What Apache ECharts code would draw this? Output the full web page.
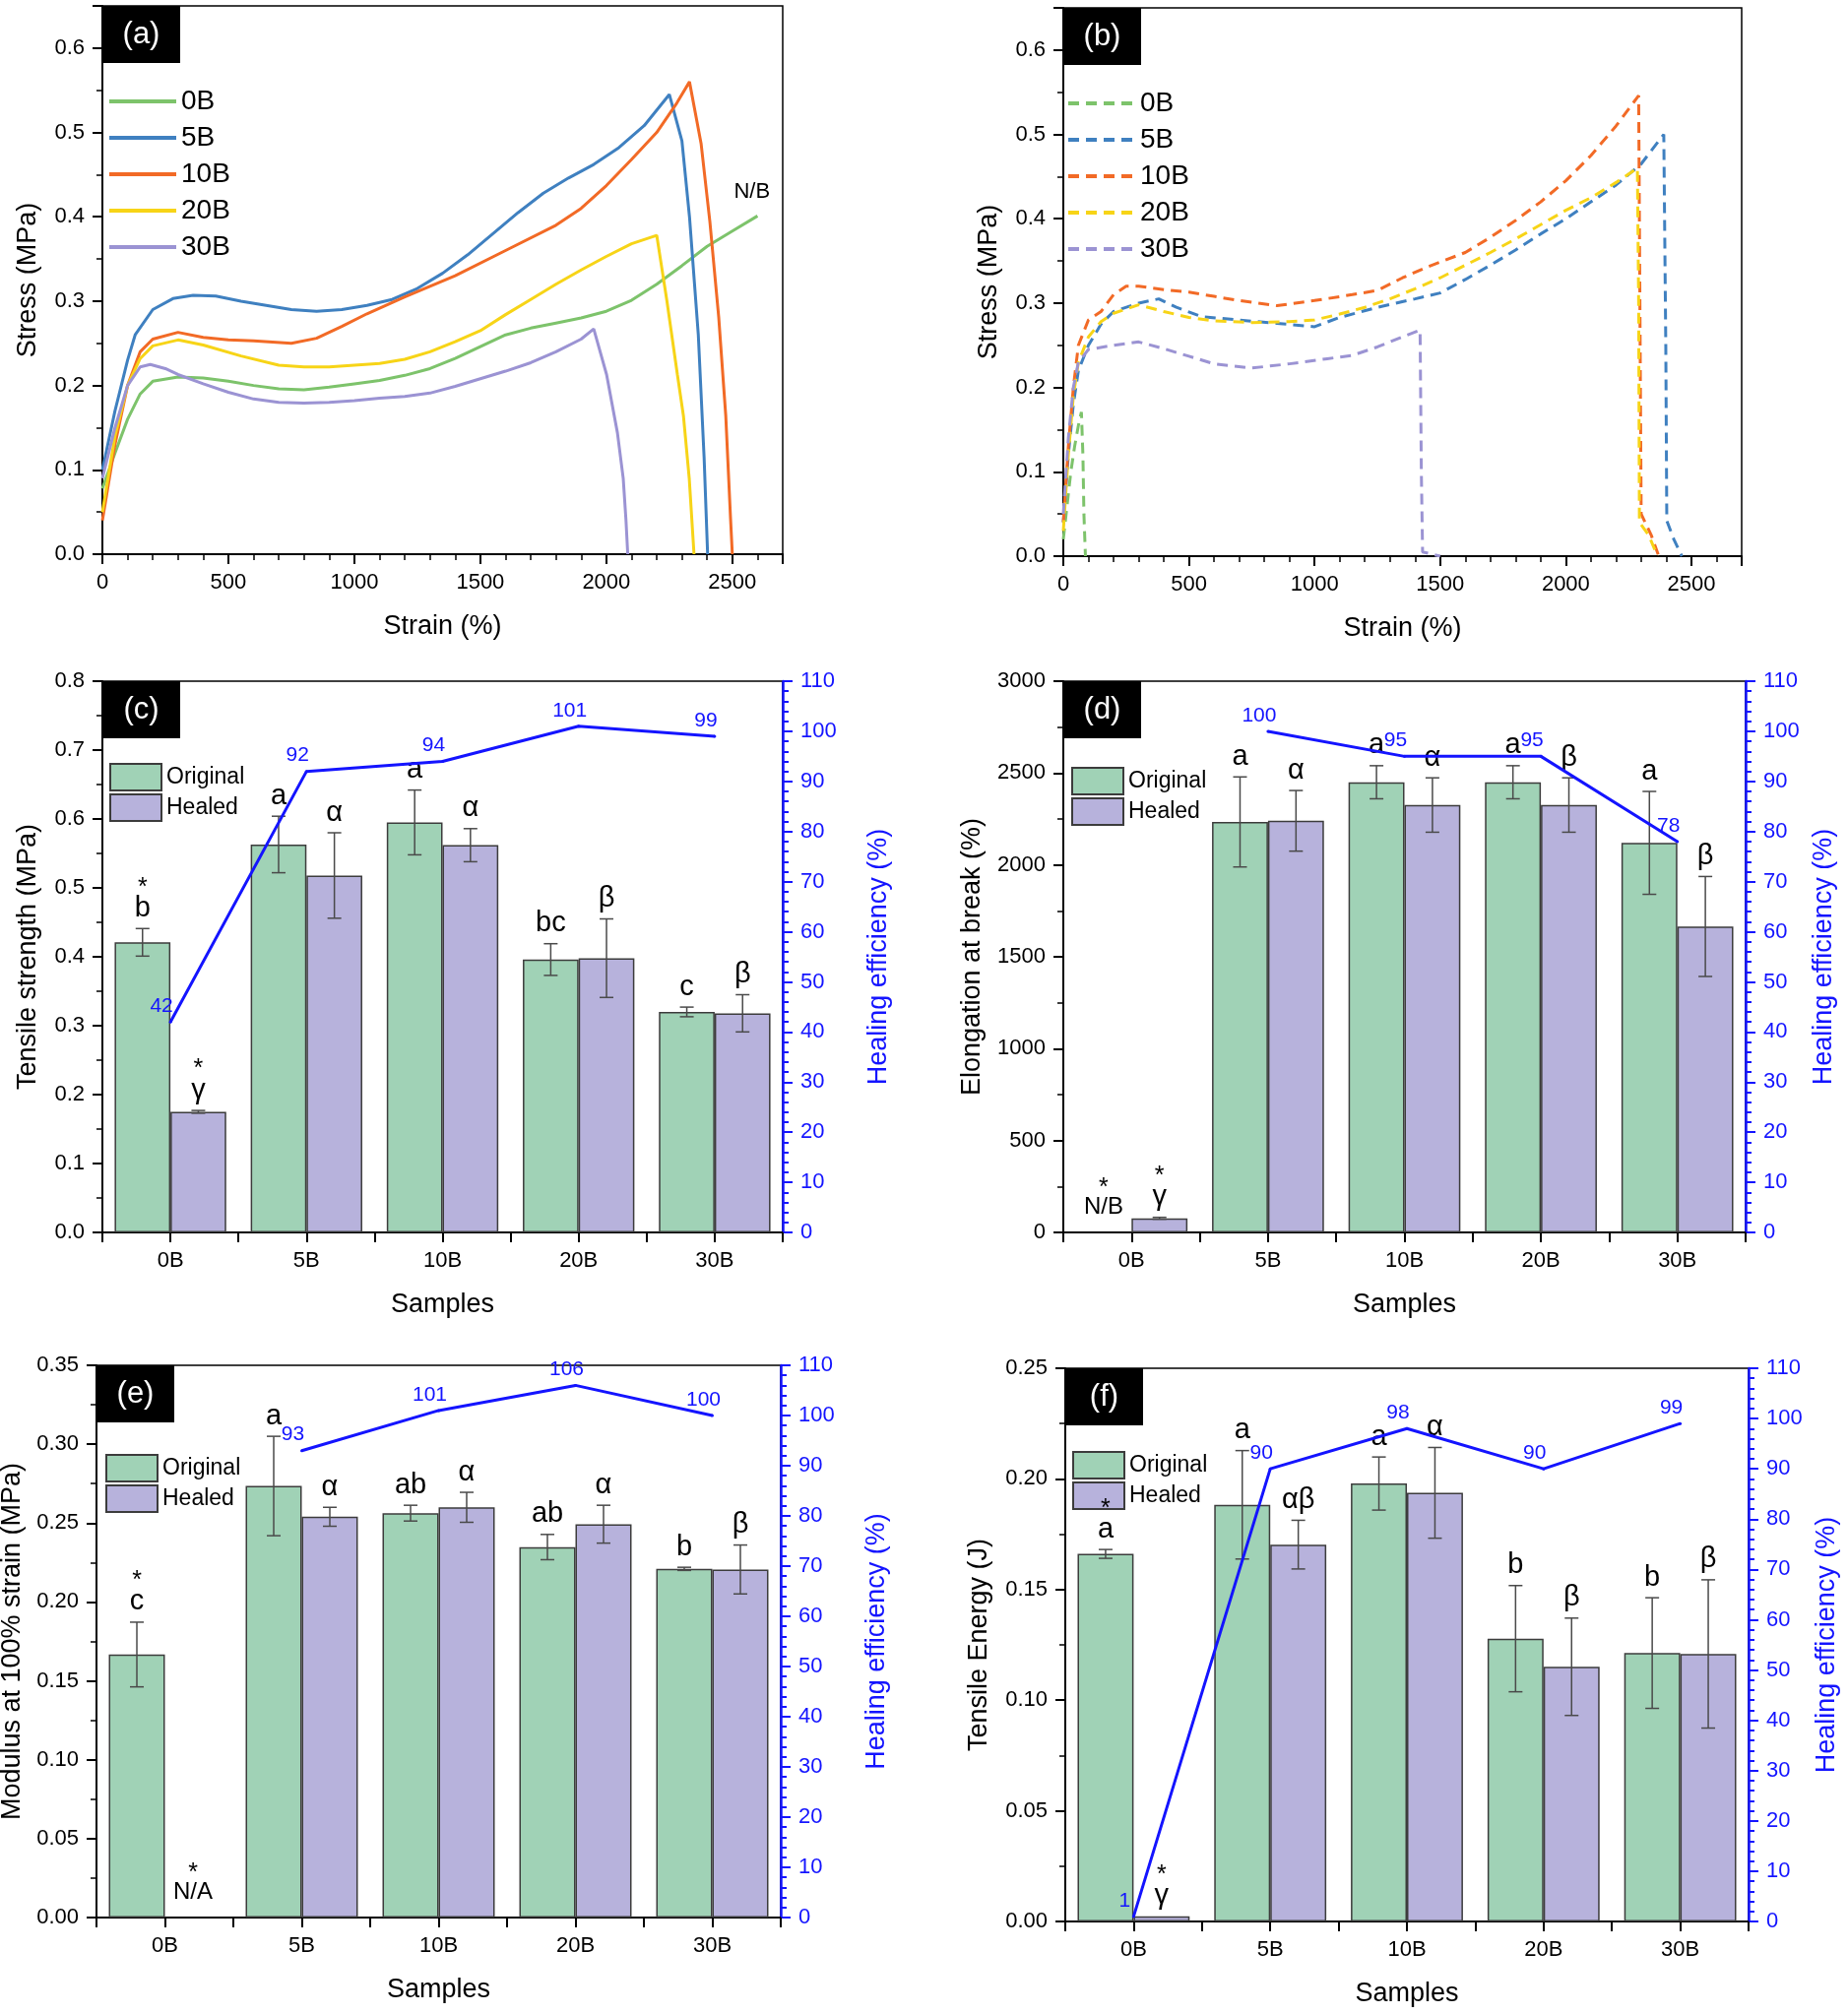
<!DOCTYPE html>
<html>
<head>
<meta charset="utf-8">
<title>Tensile tests</title>
<script src="https://cdn.jsdelivr.net/npm/echarts@6/dist/echarts.min.js"></script>
<style>
body{margin:0;background:#fff;}
#page{position:relative;width:1877px;height:2046px;}
.panel{position:absolute;}
</style>
</head>
<body>
<div id="page">
<div id="pa" class="panel" style="left:0;top:0;width:940px;height:670px"></div>
<div id="pb" class="panel" style="left:940px;top:0;width:937px;height:670px"></div>
<div id="pc" class="panel" style="left:0;top:670px;width:940px;height:690px"></div>
<div id="pd" class="panel" style="left:940px;top:670px;width:937px;height:690px"></div>
<div id="pe" class="panel" style="left:0;top:1360px;width:940px;height:686px"></div>
<div id="pf" class="panel" style="left:940px;top:1360px;width:937px;height:686px"></div>
</div>
<script>
var FONT = '"Liberation Sans", Arial, sans-serif';
var samples = ['0B', '5B', '10B', '20B', '30B'];
var curveColors = ['#7dc36b', '#3f80c0', '#f26a26', '#f7d417', '#9b93d3'];
var GREEN = '#a0d2b6', PURPLE = '#b7b2dc', EFF = '#1414ff';

// (a) original samples, [strain %, stress MPa]
var a0B = [[0,0.078],[50,0.12],[100,0.16],[150,0.19],[200,0.205],[300,0.21],[400,0.209],[500,0.205],[600,0.2],[700,0.196],[800,0.195],[900,0.198],[1000,0.202],[1100,0.206],[1200,0.212],[1300,0.22],[1400,0.232],[1500,0.246],[1600,0.26],[1700,0.268],[1800,0.274],[1900,0.28],[2000,0.288],[2100,0.301],[2200,0.32],[2300,0.342],[2400,0.365],[2500,0.383],[2600,0.401]];
var a5B = [[0,0.1],[50,0.17],[100,0.23],[130,0.26],[200,0.29],[280,0.303],[360,0.307],[450,0.306],[550,0.3],[650,0.295],[750,0.29],[850,0.288],[950,0.29],[1050,0.295],[1150,0.302],[1250,0.315],[1350,0.333],[1450,0.355],[1550,0.38],[1650,0.405],[1750,0.428],[1850,0.446],[1950,0.462],[2050,0.482],[2150,0.508],[2250,0.545],[2300,0.49],[2330,0.4],[2365,0.26],[2388,0.115],[2402,0]];
var a10B = [[0,0.04],[50,0.13],[100,0.2],[150,0.24],[200,0.255],[300,0.263],[400,0.257],[500,0.254],[600,0.253],[750,0.25],[850,0.256],[950,0.27],[1050,0.285],[1200,0.305],[1400,0.33],[1600,0.36],[1800,0.39],[1900,0.41],[2000,0.437],[2100,0.468],[2200,0.5],[2280,0.535],[2330,0.56],[2376,0.487],[2411,0.394],[2446,0.281],[2474,0.164],[2493,0.042],[2500,0]];
var a20B = [[0,0.05],[50,0.14],[100,0.2],[150,0.232],[200,0.247],[300,0.254],[400,0.248],[550,0.235],[700,0.224],[800,0.222],[900,0.222],[1000,0.224],[1100,0.226],[1200,0.231],[1300,0.24],[1400,0.252],[1500,0.265],[1600,0.284],[1700,0.302],[1800,0.32],[1900,0.337],[2000,0.353],[2100,0.368],[2200,0.378],[2240,0.301],[2282,0.213],[2306,0.164],[2329,0.09],[2348,0]];
var a30B = [[0,0.09],[50,0.15],[100,0.2],[150,0.222],[190,0.225],[250,0.22],[300,0.213],[400,0.202],[500,0.192],[600,0.184],[700,0.18],[800,0.179],[900,0.18],[1000,0.182],[1100,0.185],[1200,0.187],[1300,0.191],[1400,0.199],[1500,0.208],[1600,0.217],[1700,0.227],[1800,0.24],[1900,0.255],[1950,0.267],[2001,0.213],[2044,0.144],[2067,0.09],[2078,0.04],[2085,0]];

// (b) healed samples, [strain %, stress MPa]
var b0B = [[0,0.02],[15,0.06],[30,0.1],[45,0.13],[60,0.155],[72,0.171],[78,0.12],[82,0.05],[88,0]];
var b5B = [[0,0.04],[20,0.12],[40,0.18],[60,0.22],[100,0.25],[150,0.275],[200,0.29],[300,0.3],[380,0.305],[450,0.295],[550,0.284],[700,0.28],[850,0.276],[1000,0.272],[1100,0.283],[1250,0.295],[1400,0.305],[1500,0.312],[1600,0.328],[1700,0.345],[1800,0.363],[1900,0.382],[2000,0.4],[2100,0.42],[2200,0.44],[2300,0.465],[2390,0.5],[2398,0.25],[2402,0.042],[2430,0.02],[2462,0]];
var b10B = [[0,0.04],[20,0.13],[40,0.2],[60,0.25],[100,0.28],[150,0.29],[200,0.31],[250,0.32],[300,0.32],[400,0.316],[500,0.313],[600,0.308],[700,0.303],[850,0.297],[1000,0.303],[1150,0.31],[1250,0.315],[1350,0.33],[1450,0.343],[1600,0.36],[1700,0.378],[1800,0.398],[1900,0.42],[2000,0.445],[2100,0.475],[2200,0.51],[2290,0.546],[2295,0.3],[2300,0.05],[2340,0.025],[2370,0]];
var b20B = [[0,0.03],[20,0.12],[40,0.19],[60,0.23],[100,0.26],[150,0.278],[200,0.288],[300,0.298],[400,0.29],[500,0.283],[600,0.279],[750,0.277],[900,0.278],[1000,0.28],[1100,0.287],[1200,0.295],[1300,0.305],[1400,0.317],[1500,0.33],[1600,0.345],[1700,0.36],[1800,0.376],[1900,0.393],[2000,0.41],[2100,0.425],[2200,0.443],[2285,0.46],[2290,0.3],[2293,0.04],[2330,0.025],[2365,0]];
var b30B = [[0,0.05],[20,0.14],[40,0.2],[60,0.23],[100,0.245],[200,0.25],[300,0.254],[400,0.246],[500,0.237],[600,0.228],[750,0.223],[900,0.228],[1050,0.234],[1150,0.238],[1250,0.248],[1350,0.26],[1420,0.268],[1425,0.1],[1430,0.005],[1500,0]];

// (c) tensile strength, MPa
var cOrig = [0.421, 0.563, 0.595, 0.396, 0.320];
var cOrigErr = [0.020, 0.041, 0.047, 0.023, 0.007];
var cHeal = [0.175, 0.518, 0.562, 0.398, 0.318];
var cHealErr = [0.002, 0.062, 0.024, 0.057, 0.027];
var cEff = [42, 92, 94, 101, 99];
var cOrigTag = ['b', 'a', 'a', 'bc', 'c'];
var cHealTag = ['γ', 'α', 'α', 'β', 'β'];

// (d) elongation at break, %
var dOrig = [null, 2234, 2450, 2450, 2120];
var dOrigErr = [0, 245, 90, 90, 280];
var dHeal = [77, 2240, 2326, 2326, 1665];
var dHealErr = [5, 165, 148, 148, 272];
var dEff = [null, 100, 95, 95, 78];
var dOrigTag = ['N/B', 'a', 'a', 'a', 'a'];
var dHealTag = ['γ', 'α', 'α', 'β', 'β'];

// (e) modulus at 100% strain, MPa
var eOrig = [0.1667, 0.2735, 0.2563, 0.2348, 0.2210];
var eOrigErr = [0.0205, 0.0315, 0.005, 0.008, 0.001];
var eHeal = [null, 0.254, 0.260, 0.2493, 0.2206];
var eHealErr = [0, 0.006, 0.0095, 0.012, 0.0155];
var eEff = [null, 93, 101, 106, 100];
var eOrigTag = ['c', 'a', 'ab', 'ab', 'b'];
var eHealTag = ['N/A', 'α', 'α', 'α', 'β'];

// (f) tensile energy, J
var fOrig = [0.1661, 0.1883, 0.1979, 0.1278, 0.1213];
var fOrigErr = [0.002, 0.0245, 0.012, 0.024, 0.025];
var fHeal = [0.0023, 0.1703, 0.1937, 0.1151, 0.1209];
var fHealErr = [0, 0.011, 0.0205, 0.022, 0.0335];
var fEff = [1, 90, 98, 90, 99];
var fOrigTag = ['a', 'a', 'a', 'b', 'b'];
var fHealTag = ['γ', 'αβ', 'α', 'β', 'β'];

// significance stars (only the 0B samples)
var starred = [true, false, false, false, false];

function panelTag(x, y, txt) {
	return {
		type: 'group', left: x, top: y, z: 100,
		children: [
			{type: 'rect', shape: {x: 0, y: 0, width: 79, height: 58}, style: {fill: '#000'}},
			{type: 'text', x: 39.5, y: 29, style: {text: txt, fill: '#fff', font: '31px ' + FONT,
				align: 'center', verticalAlign: 'middle', textAlign: 'center', textVerticalAlign: 'middle'}}
		]
	};
}

function axisBase(extra) {
	var ax = {
		axisLine: {show: true, onZero: false, lineStyle: {color: '#000', width: 2}},
		axisTick: {show: true, inside: false, length: 10, lineStyle: {color: '#000', width: 2}},
		minorTick: {show: true, splitNumber: 2, length: 6, lineStyle: {color: '#000', width: 1.5}},
		axisLabel: {color: '#000', fontSize: 22, fontFamily: FONT, margin: 18},
		splitLine: {show: false},
		nameLocation: 'middle',
		nameTextStyle: {color: '#000', fontSize: 27, fontFamily: FONT}
	};
	for (var k in extra) ax[k] = extra[k];
	return ax;
}

function lineChart(id, grid, curves, dashed, tag, legLeft, legTop, withNB) {
	var chart = echarts.init(document.getElementById(id));
	var series = curves.map(function(c, k) {
		return {
			name: samples[k], type: 'line', data: c, symbol: 'none', smooth: false,
			lineStyle: {color: curveColors[k], width: 3, type: dashed ? [11, 7] : 'solid'},
			itemStyle: {color: curveColors[k]}
		};
	});
	if (withNB) {
		series[0].endLabel = {show: true, formatter: 'N/B', color: '#000', fontSize: 22, fontFamily: FONT, offset: [-32, -24]};
	}
	chart.setOption({
		animation: false,
		textStyle: {fontFamily: FONT},
		grid: {left: grid[0], top: grid[1], width: grid[2], height: grid[3], show: true, borderColor: '#000', borderWidth: 1.5, outerBoundsMode: 'none'},
		legend: {
			orient: 'vertical', left: legLeft, top: legTop, itemWidth: 68, itemHeight: 14, itemGap: 9,
			itemStyle: {opacity: 0}, lineStyle: {width: 4},
			textStyle: {fontSize: 28, color: '#000', fontFamily: FONT}, data: samples
		},
		xAxis: axisBase({
			type: 'value', min: 0, max: 2700, interval: 500, name: 'Strain (%)', nameGap: 60,
			minorTick: {show: true, splitNumber: 5, length: 6, lineStyle: {color: '#000', width: 1.5}},
			axisLabel: {color: '#000', fontSize: 22, fontFamily: FONT, margin: 18, showMaxLabel: false,
				formatter: function(v) { return String(v); }}
		}),
		yAxis: axisBase({
			type: 'value', min: 0, max: 0.65, interval: 0.1, name: 'Stress (MPa)', nameGap: 62,
			axisLabel: {color: '#000', fontSize: 22, fontFamily: FONT, margin: 18, showMaxLabel: false,
				formatter: function(v) { return v.toFixed(1); }}
		}),
		graphic: [panelTag(grid[0], grid[1], tag)],
		series: series
	});
}

function textEl(txt, x, y, size) {
	return {
		type: 'text',
		style: {text: txt, x: x, y: y, font: size + 'px ' + FONT, fill: '#000',
			align: 'center', verticalAlign: 'bottom', textAlign: 'center', textVerticalAlign: 'bottom'}
	};
}

function errorMarks(shift, tags) {
	return function(params, api) {
		var i = api.value(0), v = api.value(1), e = api.value(2), has = api.value(3);
		var base = api.coord([i, 0]);
		var band = api.size([1, 0])[0];
		var x = base[0] + shift * band * 0.205;
		var kids = [];
		var bottom, size;
		var stroke = {stroke: '#4a4a4a', lineWidth: 1.5};
		if (has) {
			var lo = api.coord([i, v - e])[1];
			var hi = api.coord([i, v + e])[1];
			if (e > 0) {
				kids.push({type: 'line', shape: {x1: x, y1: lo, x2: x, y2: hi}, style: stroke});
				kids.push({type: 'line', shape: {x1: x - 7, y1: lo, x2: x + 7, y2: lo}, style: stroke});
				kids.push({type: 'line', shape: {x1: x - 7, y1: hi, x2: x + 7, y2: hi}, style: stroke});
			}
			bottom = hi - 6;
			size = 29;
		} else {
			bottom = base[1] - 14;
			size = 24;
		}
		kids.push(textEl(tags[i], x, bottom, size));
		if (starred[i]) kids.push(textEl('*', x, bottom - size + 6, 25));
		return {type: 'group', children: kids};
	};
}

function barChart(id, o) {
	var chart = echarts.init(document.getElementById(id));
	var g = o.grid;
	function marks(vals, errs) {
		return samples.map(function(s, i) {
			return [i, vals[i] == null ? 0 : vals[i], errs[i], vals[i] == null ? 0 : 1];
		});
	}
	function bars(vals) {
		return vals.map(function(v) { return v == null ? '-' : v; });
	}
	chart.setOption({
		animation: false,
		textStyle: {fontFamily: FONT},
		grid: {left: g[0], top: g[1], width: g[2], height: g[3], show: true, borderColor: '#000', borderWidth: 1.5, outerBoundsMode: 'none'},
		legend: {
			orient: 'vertical', left: o.leg[0], top: o.leg[1], itemWidth: 52, itemHeight: 27, itemGap: 2,
			icon: 'rect', textStyle: {fontSize: 23, color: '#000', fontFamily: FONT},
			data: ['Original', 'Healed']
		},
		xAxis: [
			axisBase({type: 'category', data: samples, name: 'Samples', nameGap: 60, axisTick: {show: false}, minorTick: {show: false}}),
			{
				type: 'value', min: -0.5, max: 4.5, interval: 0.5, position: 'bottom',
				axisLine: {show: false}, axisLabel: {show: false}, splitLine: {show: false},
				axisTick: {show: true, length: 10, lineStyle: {color: '#000', width: 2}}
			}
		],
		yAxis: [
			axisBase({
				type: 'value', min: 0, max: o.max, interval: o.step, name: o.name, nameGap: o.nameGap,
				axisLabel: {color: '#000', fontSize: 22, fontFamily: FONT, margin: 18, formatter: function(v) { return v.toFixed(o.dec); }}
			}),
			{
				type: 'value', min: 0, max: 110, interval: 10, position: 'right',
				name: 'Healing efficiency (%)', nameLocation: 'middle', nameRotate: 90, nameGap: o.rGap,
				nameTextStyle: {color: EFF, fontSize: 27, fontFamily: FONT},
				axisLine: {show: true, onZero: false, lineStyle: {color: EFF, width: 2.5}},
				axisTick: {show: true, length: 10, lineStyle: {color: EFF, width: 2}},
				minorTick: {show: true, splitNumber: 5, length: 6, lineStyle: {color: EFF, width: 2}},
				axisLabel: {color: EFF, fontSize: 22, fontFamily: FONT, margin: 18},
				splitLine: {show: false}
			}
		],
		graphic: [panelTag(g[0], g[1], o.tag)],
		series: [
			{name: 'Original', type: 'bar', data: bars(o.orig), barWidth: '41%', barGap: '0%',
				itemStyle: {color: GREEN, borderColor: '#3c3c3c', borderWidth: 1.5}},
			{name: 'Healed', type: 'bar', data: bars(o.heal), barWidth: '41%', barGap: '0%',
				itemStyle: {color: PURPLE, borderColor: '#3c3c3c', borderWidth: 1.5}},
			{type: 'custom', data: marks(o.orig, o.origErr), renderItem: errorMarks(-1, o.origTag), z: 4},
			{type: 'custom', data: marks(o.heal, o.healErr), renderItem: errorMarks(1, o.healTag), z: 4},
			{name: 'eff', type: 'line', yAxisIndex: 1, data: bars(o.eff), symbol: 'circle', symbolSize: 3, z: 5,
				lineStyle: {color: EFF, width: 3}, itemStyle: {color: EFF},
				label: {show: true, position: 'top', distance: 4, offset: [-9, 0], color: EFF, fontSize: 21, fontFamily: FONT}}
		]
	});
}

lineChart('pa', [104, 6, 691, 557], [a0B, a5B, a10B, a20B, a30B], false, '(a)', 104, 84, true);
lineChart('pb', [140, 8, 689, 557], [b0B, b5B, b10B, b20B, b30B], true, '(b)', 138, 86, false);

barChart('pc', {grid: [104, 22, 691, 560], leg: [106, 100], tag: '(c)', max: 0.8, step: 0.1, dec: 1,
	name: 'Tensile strength (MPa)', nameGap: 62, rGap: 84,
	orig: cOrig, origErr: cOrigErr, heal: cHeal, healErr: cHealErr, eff: cEff, origTag: cOrigTag, healTag: cHealTag});
barChart('pd', {grid: [140, 22, 693, 560], leg: [143, 104], tag: '(d)', max: 3000, step: 500, dec: 0,
	name: 'Elongation at break (%)', nameGap: 79, rGap: 64,
	orig: dOrig, origErr: dOrigErr, heal: dHeal, healErr: dHealErr, eff: dEff, origTag: dOrigTag, healTag: dHealTag});
barChart('pe', {grid: [98, 27, 695, 561], leg: [102, 112], tag: '(e)', max: 0.35, step: 0.05, dec: 2,
	name: 'Modulus at 100% strain (MPa)', nameGap: 69, rGap: 84,
	orig: eOrig, origErr: eOrigErr, heal: eHeal, healErr: eHealErr, eff: eEff, origTag: eOrigTag, healTag: eHealTag});
barChart('pf', {grid: [142, 30, 694, 562], leg: [144, 109], tag: '(f)', max: 0.25, step: 0.05, dec: 2,
	name: 'Tensile Energy (J)', nameGap: 74, rGap: 64,
	orig: fOrig, origErr: fOrigErr, heal: fHeal, healErr: fHealErr, eff: fEff, origTag: fOrigTag, healTag: fHealTag});
</script>
</body>
</html>
